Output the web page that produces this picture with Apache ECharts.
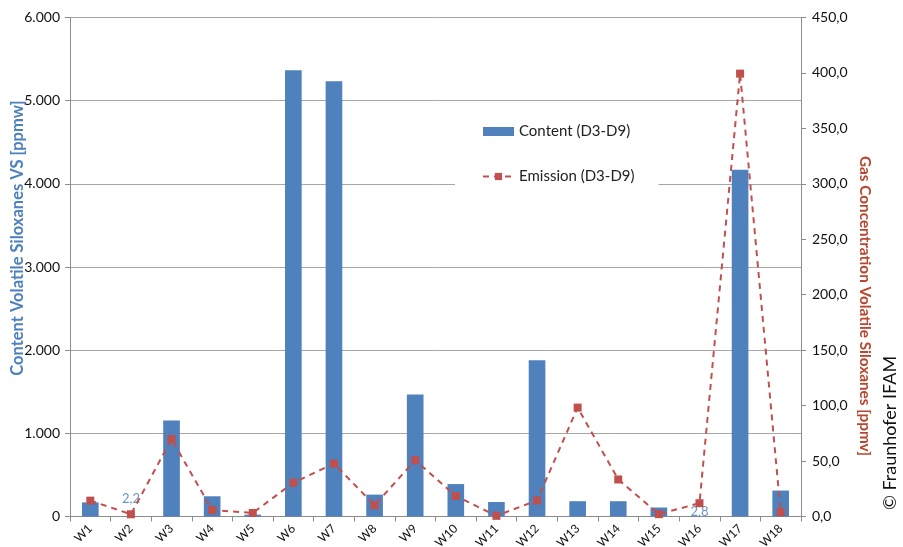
<!DOCTYPE html>
<html>
<head>
<meta charset="utf-8">
<script src="https://cdn.jsdelivr.net/npm/echarts@6/dist/echarts.min.js"></script>
<style>html,body{margin:0;padding:0;background:#fff;}#c{width:903px;height:547px;}</style>
</head>
<body>
<div id="c"></div>
<script>
var categories = ['W1','W2','W3','W4','W5','W6','W7','W8','W9','W10','W11','W12','W13','W14','W15','W16','W17','W18'];
var contentValues = [170, 2.2, 1155, 243, 22, 5365, 5233, 263, 1468, 390, 174, 1878, 184, 184, 108, 2.8, 4169, 312];
var emissionValues = [14.3, 2.0, 69.8, 5.9, 3.2, 30.5, 47.7, 10.1, 50.8, 18.5, 0.6, 14.5, 98.2, 33.4, 2.1, 12.0, 399.4, 3.9];
var leftTicks = [0, 1000, 2000, 3000, 4000, 5000, 6000];
var rightTicks = [0, 50, 100, 150, 200, 250, 300, 350, 400, 450];
var labelledBars = [1, 15];

var FONT = 'Lato, "Liberation Sans", sans-serif';
var BLUE = '#4f81bd';
var RED = '#c0504d';

function comma(v, d) { return v.toFixed(d).replace('.', ','); }
function thousands(v) { return String(v).replace(/\B(?=(\d{3})+(?!\d))/g, '.'); }

var labelDistance = {1: 11, 15: -2};
var barData = contentValues.map(function (v, i) {
  if (labelledBars.indexOf(i) >= 0) {
    return {
      value: v,
      label: {
        show: true, position: 'top', distance: labelDistance[i],
        formatter: function (p) { return comma(p.value, 1); },
        color: '#6a95c9', fontSize: 13, fontFamily: FONT
      }
    };
  }
  return v;
});

var chart = echarts.init(document.getElementById('c'), null, {renderer: 'canvas'});
chart.setOption({
  animation: false,
  backgroundColor: '#fff',
  textStyle: {fontFamily: FONT},
  grid: {left: 70, right: 102, top: 17.5, bottom: 30.5, containLabel: false, outerBoundsMode: 'none'},
  legend: {
    orient: 'vertical',
    left: 455, top: 110,
    backgroundColor: '#fff',
    padding: [14, 24, 12, 27],
    itemGap: 30,
    itemWidth: 31, itemHeight: 9,
    textStyle: {fontSize: 15, color: '#222', fontFamily: FONT},
    data: [
      {name: 'Content (D3-D9)', icon: 'rect'},
      {name: 'Emission (D3-D9)'}
    ]
  },
  xAxis: {
    type: 'category',
    data: categories,
    axisLine: {lineStyle: {color: '#8c8c8c', width: 1}},
    axisTick: {show: true, length: 5, lineStyle: {color: '#8c8c8c'}},
    axisLabel: {rotate: 45, fontSize: 12, color: '#111', margin: 10, fontFamily: FONT, interval: 0}
  },
  yAxis: [
    {
      type: 'value', min: leftTicks[0], max: leftTicks[leftTicks.length - 1], interval: 1000,
      position: 'left',
      name: 'Content Volatile Siloxanes VS [ppmw]',
      nameLocation: 'middle', nameRotate: 90, nameGap: 44, nameMoveOverlap: false,
      nameTextStyle: {color: '#4f81bd', fontSize: 16.5, fontWeight: 'bold', fontFamily: FONT, padding: [0, 0, 0, 58]},
      axisLine: {show: true, lineStyle: {color: '#8c8c8c'}},
      axisTick: {show: true, length: 5, lineStyle: {color: '#8c8c8c'}},
      axisLabel: {fontSize: 14, color: '#111', margin: 10, formatter: function (v) { return thousands(v); }},
      splitLine: {show: true, lineStyle: {color: '#a6a6a6', width: 1}}
    },
    {
      type: 'value', min: rightTicks[0], max: rightTicks[rightTicks.length - 1], interval: 50,
      position: 'right',
      name: 'Gas Concentration Volatile Siloxanes [ppmv]',
      nameLocation: 'middle', nameRotate: -90, nameGap: 56, nameMoveOverlap: false,
      nameTextStyle: {color: '#b9462e', fontSize: 15.3, fontWeight: 'bold', fontFamily: FONT, padding: [0, 0, 0, 78]},
      axisLine: {show: true, lineStyle: {color: '#8c8c8c'}},
      axisTick: {show: true, length: 5, lineStyle: {color: '#8c8c8c'}},
      axisLabel: {fontSize: 14, color: '#111', margin: 11, formatter: function (v) { return comma(v, 1); }},
      splitLine: {show: false}
    }
  ],
  graphic: [{
    type: 'text', x: 890, y: 433, rotation: Math.PI / 2,
    style: {text: '© Fraunhofer IFAM', fill: '#111', fontSize: 18, fontFamily: FONT, align: 'center', verticalAlign: 'middle'}
  }],
  series: [
    {
      name: 'Content (D3-D9)', type: 'bar', yAxisIndex: 0,
      data: barData, barWidth: '41%',
      itemStyle: {color: BLUE},
      z: 2
    },
    {
      name: 'Emission (D3-D9)', type: 'line', yAxisIndex: 1,
      data: emissionValues,
      symbol: 'rect', symbolSize: 8,
      itemStyle: {color: RED},
      lineStyle: {color: RED, width: 2, type: [6, 5]},
      z: 3
    }
  ]
});
</script>
</body>
</html>
